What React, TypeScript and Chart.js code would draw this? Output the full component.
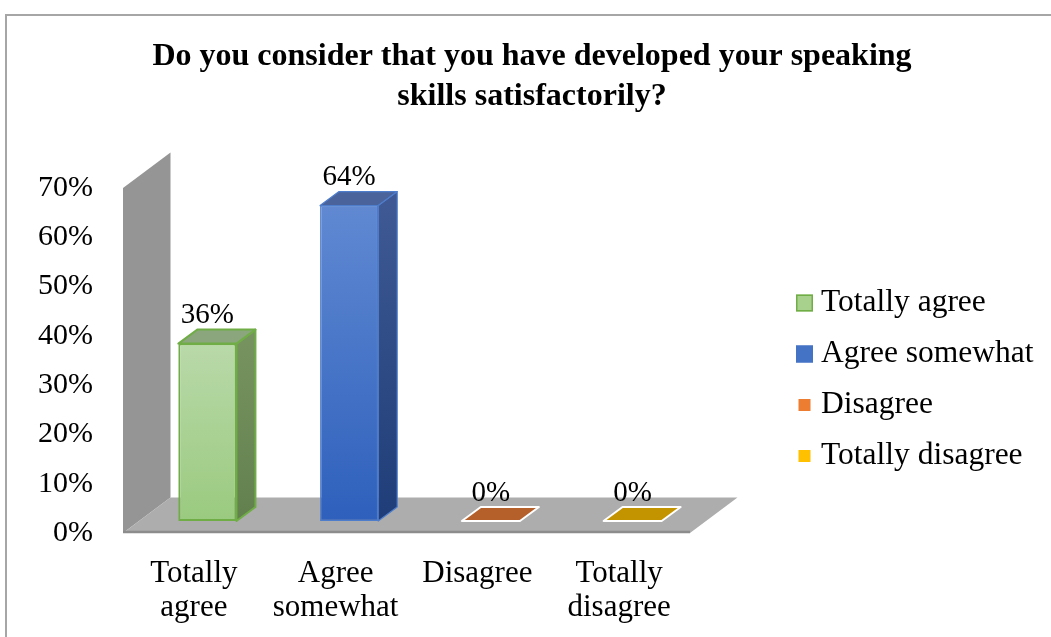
import React, { useEffect, useRef } from "react";
import { Chart, registerables } from "chart.js";

Chart.register(...registerables);

// ---------- data ----------
const TITLE_LINES = ["Do you consider that you have developed your speaking", "skills satisfactorily?"];
const CATEGORY_LABELS = [["Totally", "agree"], ["Agree", "somewhat"], ["Disagree"], ["Totally", "disagree"]];
const LEGEND_NAMES = ["Totally agree", "Agree somewhat", "Disagree", "Totally disagree"];
const VALUES = [0.36, 0.64, 0, 0];
const Y_MIN = 0;
const Y_MAX = 0.7;
const Y_STEP = 0.1;

// ---------- styles ----------
const SERIF = "'Times New Roman', 'Liberation Serif', 'DejaVu Serif', serif";
const W = 1064;
const H = 637;
const AREA_LEFT = 123;
const AREA_RIGHT = 690;
const AREA_BOTTOM = 533;

const WALL_DX = 47.5;
const WALL_DY = -35.5;
const BAR_SHIFT_X = 13.5;
const BAR_SHIFT_Y = -12;
const BAR_DX = 19;
const BAR_DY = -14;

const FRONT_TOP = ["#B9D9A9", "#6089D2", "#ED7D31", "#FFC000"];
const FRONT_BOTTOM = ["#9ACA7F", "#2E60BC", "#ED7D31", "#FFC000"];
const SIDE_TOP = ["#76935F", "#3E5994", "#B5602A", "#C49300"];
const SIDE_BOTTOM = ["#62804E", "#1F3D78", "#B5602A", "#C49300"];
const TOP_FACE = ["#8BA67D", "#4A639B", "#B5602A", "#C49300"];
const EDGE = ["#70AD47", "#4E7DCC", "#FFFFFF", "#FFFFFF"];
const EDGE_W = [2, 1.2, 2, 2];

const LEGEND_FILL = ["#A9D18E", "#4472C4", "#ED7D31", "#FFC000"];
const LEGEND_STROKE = ["#70AD47", "#4472C4", "", ""];
const LEGEND_BOX = [17, 17, 12, 12];
const LEGEND_BOX_X = 796;
const LEGEND_TEXT_X = 821;
const LEGEND_Y0 = 303;
const LEGEND_STEP = 51;

const pct = (v: number) => `${Math.round(v * 100)}%`;

const threeDPlugin = {
  id: "threeD",
  beforeDatasetsDraw(chart: any) {
    const { ctx, chartArea: a, scales } = chart;
    const ys = scales.y;
    const top = ys.getPixelForValue(Y_MAX);
    const bot = ys.getPixelForValue(Y_MIN);
    ctx.save();
    // side wall
    ctx.fillStyle = "#959595";
    ctx.beginPath();
    ctx.moveTo(a.left, bot);
    ctx.lineTo(a.left, top);
    ctx.lineTo(a.left + WALL_DX, top + WALL_DY);
    ctx.lineTo(a.left + WALL_DX, bot + WALL_DY);
    ctx.closePath();
    ctx.fill();
    // floor
    ctx.fillStyle = "#ADADAD";
    ctx.beginPath();
    ctx.moveTo(a.left, bot);
    ctx.lineTo(a.left + WALL_DX, bot + WALL_DY);
    ctx.lineTo(a.right + WALL_DX, bot + WALL_DY);
    ctx.lineTo(a.right, bot);
    ctx.closePath();
    ctx.fill();
    // floor front edge
    ctx.strokeStyle = "#8C8C8C";
    ctx.lineWidth = 2.5;
    ctx.beginPath();
    ctx.moveTo(a.left, bot - 1);
    ctx.lineTo(a.right, bot - 1);
    ctx.stroke();
    ctx.restore();
    // shift the bar fronts into the middle of the floor depth
    ctx.save();
    ctx.translate(BAR_SHIFT_X, BAR_SHIFT_Y);
  },
  afterDatasetsDraw(chart: any) {
    const { ctx } = chart;
    ctx.restore();
    ctx.save();
    ctx.translate(BAR_SHIFT_X, BAR_SHIFT_Y);
    const meta = chart.getDatasetMeta(0);
    meta.data.forEach((bar: any, i: number) => {
      const { x, y, base, width } = bar.getProps(["x", "y", "base", "width"], true);
      const l = x - width / 2;
      const r = x + width / 2;
      ctx.lineJoin = "round";
      ctx.strokeStyle = EDGE[i];
      ctx.lineWidth = EDGE_W[i];
      if (base - y > 0.5) {
        const g = ctx.createLinearGradient(0, y, 0, base);
        g.addColorStop(0, SIDE_TOP[i]);
        g.addColorStop(1, SIDE_BOTTOM[i]);
        ctx.fillStyle = g;
        ctx.beginPath();
        ctx.moveTo(r, y);
        ctx.lineTo(r + BAR_DX, y + BAR_DY);
        ctx.lineTo(r + BAR_DX, base + BAR_DY);
        ctx.lineTo(r, base);
        ctx.closePath();
        ctx.fill();
        ctx.stroke();
      }
      ctx.fillStyle = TOP_FACE[i];
      ctx.beginPath();
      ctx.moveTo(l, y);
      ctx.lineTo(r, y);
      ctx.lineTo(r + BAR_DX, y + BAR_DY);
      ctx.lineTo(l + BAR_DX, y + BAR_DY);
      ctx.closePath();
      ctx.fill();
      ctx.stroke();
      // data label
      ctx.fillStyle = "#000";
      ctx.font = `29px ${SERIF}`;
      ctx.textAlign = "center";
      ctx.textBaseline = "middle";
      ctx.fillText(pct(VALUES[i]), x, y - 28);
    });
    ctx.restore();
  },
  afterDraw(chart: any) {
    const { ctx } = chart;
    ctx.save();
    ctx.font = `31.5px ${SERIF}`;
    ctx.textAlign = "left";
    ctx.textBaseline = "middle";
    LEGEND_NAMES.forEach((name, i) => {
      const cy = LEGEND_Y0 + i * LEGEND_STEP;
      const s = LEGEND_BOX[i];
      const bx = LEGEND_BOX_X + (17 - s) / 2;
      ctx.fillStyle = LEGEND_FILL[i];
      ctx.fillRect(bx, cy - s / 2, s, s);
      if (LEGEND_STROKE[i]) {
        ctx.strokeStyle = LEGEND_STROKE[i];
        ctx.lineWidth = 1.5;
        ctx.strokeRect(bx + 0.75, cy - s / 2 + 0.75, s - 1.5, s - 1.5);
      }
      ctx.fillStyle = "#000";
      ctx.fillText(name, LEGEND_TEXT_X, cy);
    });
    ctx.restore();
  },
};

export default function App() {
  const ref = useRef<HTMLCanvasElement>(null);

  useEffect(() => {
    const canvas = ref.current;
    if (!canvas) return;
    const chart = new Chart(canvas, {
      type: "bar",
      data: {
        labels: CATEGORY_LABELS,
        datasets: [
          {
            label: "Responses",
            data: VALUES,
            backgroundColor: (c: any) => {
              const i = c.dataIndex ?? 0;
              const ys = c.chart.scales?.y;
              if (!ys) return FRONT_TOP[i];
              const top = ys.getPixelForValue(VALUES[i]);
              const bot = ys.getPixelForValue(Y_MIN);
              if (!Number.isFinite(top) || !Number.isFinite(bot) || bot - top < 1) return FRONT_TOP[i];
              const g = c.chart.ctx.createLinearGradient(0, top, 0, bot);
              g.addColorStop(0, FRONT_TOP[i]);
              g.addColorStop(1, FRONT_BOTTOM[i]);
              return g;
            },
            borderColor: EDGE,
            borderWidth: VALUES.map((v, i) => (v > 0 ? EDGE_W[i] : 0)),
            borderSkipped: false,
            categoryPercentage: 1,
            barPercentage: 0.41,
            clip: false as any,
          },
        ],
      },
      options: {
        responsive: false,
        animation: false,
        devicePixelRatio: 1,
        layout: { padding: 0 },
        plugins: {
          legend: { display: false },
          tooltip: { enabled: false },
          title: {
            display: true,
            text: TITLE_LINES,
            color: "#000",
            font: { family: SERIF, size: 32, weight: "bold", lineHeight: 1.25 },
            padding: { top: 37, bottom: 71 },
          },
        },
        scales: {
          x: {
            type: "category",
            grid: { display: false, drawTicks: false },
            border: { display: false },
            ticks: {
              color: "#000",
              font: { family: SERIF, size: 31, lineHeight: 1.1 },
              padding: 24,
              maxRotation: 0,
              autoSkip: false,
            },
            afterFit: (s: any) => {
              s.height = H - AREA_BOTTOM;
            },
          },
          y: {
            min: Y_MIN,
            max: Y_MAX,
            grid: { display: false, drawTicks: false },
            border: { display: false },
            ticks: {
              stepSize: Y_STEP,
              color: "#000",
              font: { family: SERIF, size: 30 },
              padding: 30,
              callback: (v: any) => pct(Number(v)),
            },
            afterFit: (s: any) => {
              s.width = AREA_LEFT;
            },
          },
          // empty right-hand axis that reserves the legend column
          yRight: {
            position: "right",
            min: Y_MIN,
            max: Y_MAX,
            grid: { display: false, drawTicks: false },
            border: { display: false },
            ticks: { display: false },
            afterFit: (s: any) => {
              s.width = W - AREA_RIGHT;
            },
          },
        },
      },
      plugins: [threeDPlugin],
    });
    return () => chart.destroy();
  }, []);

  return (
    <div
      style={{
        position: "fixed",
        left: 0,
        top: 0,
        width: 1051,
        height: 637,
        overflow: "hidden",
        background: "#fff",
      }}
    >
      <div
        style={{
          position: "absolute",
          left: 5,
          top: 14,
          width: 1200,
          height: 800,
          border: "2px solid #A6A6A6",
          boxSizing: "border-box",
        }}
      />
      <canvas
        ref={ref}
        width={W}
        height={H}
        style={{ position: "absolute", left: 0, top: 0, width: W, height: H, display: "block" }}
      />
    </div>
  );
}
